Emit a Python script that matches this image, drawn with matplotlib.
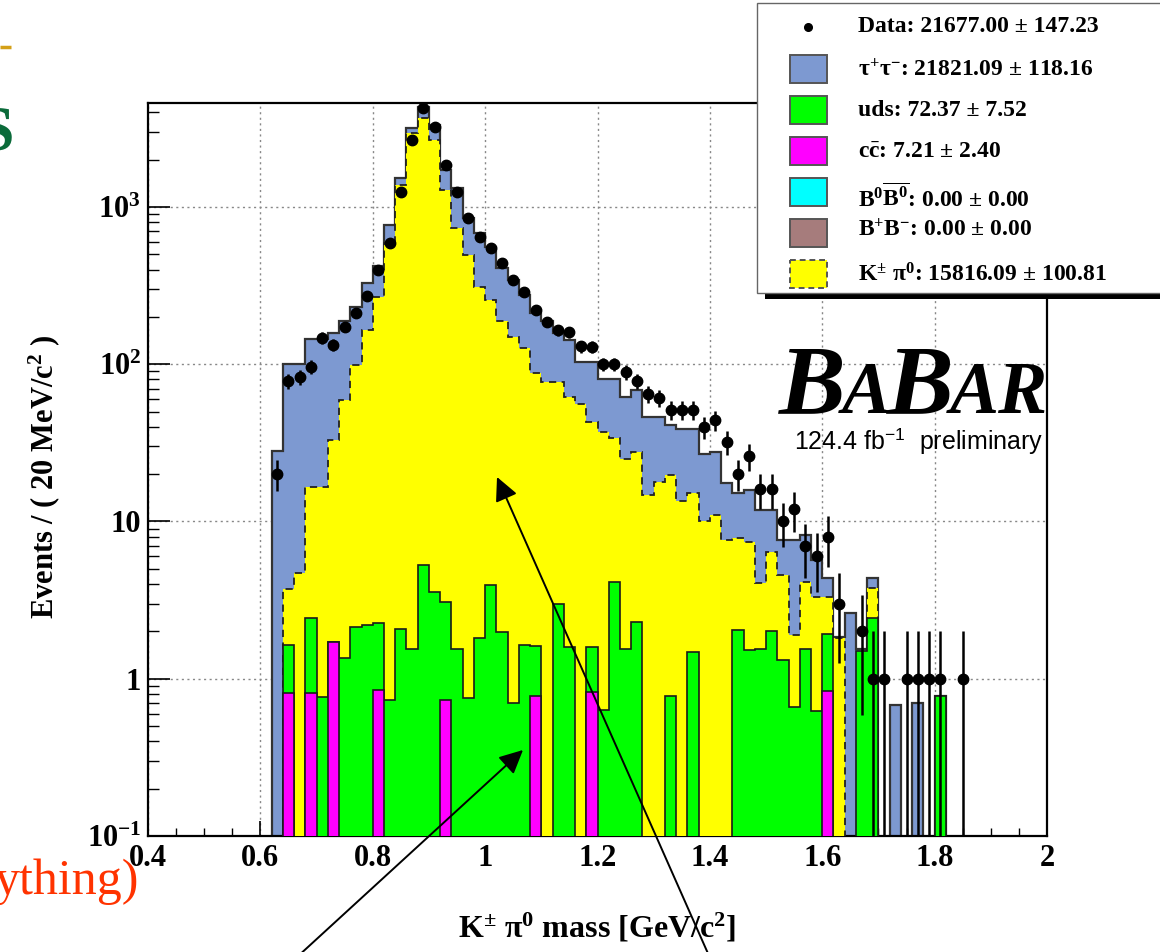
import numpy as np
import matplotlib
matplotlib.use("Agg")
import matplotlib.pyplot as plt
from matplotlib.patches import Rectangle
from matplotlib.ticker import MultipleLocator, LogLocator, NullFormatter, FixedLocator, FixedFormatter

plt.rcParams['font.family'] = ['Liberation Serif', 'DejaVu Serif']
plt.rcParams['mathtext.fontset'] = 'custom'
plt.rcParams['mathtext.rm'] = 'Liberation Serif:bold'
plt.rcParams['mathtext.bf'] = 'Liberation Serif:bold'
plt.rcParams['mathtext.it'] = 'Liberation Serif:italic:bold'
plt.rcParams['mathtext.sf'] = 'Liberation Sans'

# ---------------- data (62 bins of 20 MeV starting at 0.62 GeV) ----------------
bin_low = 0.62
bin_width = 0.02

data_counts = [20, 78, 83, 96, 147, 133, 173, 212, 272, 397,
               590, 1245, 2667, 4260, 3200, 1860, 1250, 855, 645, 545,
               439, 345, 287, 221, 186, 164, 160, 130, 129, 100,
               100, 89, 78, 65, 61, 51, 51, 51, 40, 44,
               32, 20, 26, 16, 16, 10, 12, 7, 6, 8,
               3, 0, 2, 1, 1, 0, 1, 1, 1, 1,
               0, 1]

# top of the stacked MC (tau+tau- + uds + ccbar)
total_mc = [28, 101, 101, 145, 145, 158, 187, 232, 327, 421,
            768, 1521, 3163, 4345, 3300, 1719, 1315, 847, 680, 559,
            407, 343, 276, 211, 187, 157, 143, 104, 104, 81,
            81, 62, 68.6, 46, 46, 41, 39, 39, 27, 27.8,
            17.5, 15.2, 15.8, 11.8, 11.8, 7.6, 7.6, 8.2, 5.7, 4.4,
            1.85, 2.6, 1.55, 4.35, 0, 0.68, 0, 0.70, 0, 0.78,
            0, 0]

kpi0 = [0, 3.7, 4.7, 16.6, 16.6, 33, 59, 99, 165, 269,
        588, 1380, 2942, 3664, 2667, 1283, 732, 495, 311, 256,
        187, 150, 126, 88, 77, 77, 62, 56, 43, 37,
        34, 25, 27.8, 14.7, 17.7, 19.8, 13.4, 15.2, 10, 11,
        7.6, 7.8, 7.4, 4.05, 6.4, 4.57, 1.9, 4.15, 3.33, 3.33,
        1.81, 0, 0, 3.76, 0, 0, 0, 0, 0, 0,
        0, 0]

uds = [0, 0.83, 0, 1.63, 0.77, 0, 1.35, 2.14, 2.2, 1.40,
       0.73, 2.08, 1.54, 5.3, 3.58, 2.36, 1.54, 0.75, 1.81, 3.95,
       1.99, 0.70, 1.64, 0.84, 0, 2.99, 1.6, 0, 0.78, 0.63,
       4.15, 1.55, 2.3, 0, 0, 0.78, 0, 1.48, 0, 0,
       0, 2.05, 1.52, 1.55, 2.0, 1.32, 0.66, 1.55, 0.62, 1.10,
       0, 0, 1.5, 2.42, 0, 0, 0, 0, 0, 0.78,
       0, 0]

ccbar = [0, 0.81, 0, 0.81, 0, 1.70, 0, 0, 0, 0.85,
         0, 0, 0, 0, 0, 0.73, 0, 0, 0, 0,
         0, 0, 0, 0.78, 0, 0, 0, 0, 0.82, 0,
         0, 0, 0, 0, 0, 0, 0, 0, 0, 0,
         0, 0, 0, 0, 0, 0, 0, 0, 0, 0.83,
         0, 0, 0, 0, 0, 0, 0, 0, 0, 0,
         0, 0]

legend_labels = ['Data: 21677.00 \u00b1 147.23',
                 '\u03c4$^{+}$\u03c4$^{-}$: 21821.09 \u00b1 118.16',
                 'uds: 72.37 \u00b1 7.52',
                 'c$\\bar{\\mathrm{c}}$: 7.21 \u00b1 2.40',
                 'B$^{0}\\overline{\\mathrm{B}^{0}}$: 0.00 \u00b1 0.00',
                 'B$^{+}$B$^{-}$: 0.00 \u00b1 0.00',
                 'K$^{\\pm}$ \u03c0$^{0}$: 15816.09 \u00b1 100.81']

x_ticks = [0.4, 0.6, 0.8, 1.0, 1.2, 1.4, 1.6, 1.8, 2.0]
x_tick_labels = ['0.4', '0.6', '0.8', '1', '1.2', '1.4', '1.6', '1.8', '2']
y_ticks = [0.1, 1, 10, 100, 1000]
y_tick_labels = [r'$10^{-1}$', '1', '10', r'$10^{2}$', r'$10^{3}$']

# ---------------- colours ----------------
c_tau = '#7D99D1'
c_uds = '#00FF00'
c_cc = '#FF00FF'
c_kpi = '#FFFF00'
c_b0 = '#00FFFF'
c_bp = '#A67C7C'

# ---------------- figure ----------------
fig = plt.figure(figsize=(11.6, 9.52), dpi=100)
ax = fig.add_axes([148 / 1160, 116 / 952, 899 / 1160, 733 / 952])

data_counts = np.array(data_counts, float)
total_mc = np.array(total_mc, float)
kpi0 = np.array(kpi0, float)
uds = np.array(uds, float)
ccbar = np.array(ccbar, float)
nb = len(data_counts)
edges = bin_low + bin_width * np.arange(nb + 1)
centers = edges[:-1] + bin_width / 2

floor = 1e-3
def fl(v):
    return np.where(v > 0, v, floor)

green_top = uds + ccbar

# tau+tau- stack (blue)
ax.stairs(fl(total_mc), edges, baseline=floor, fill=True, facecolor=c_tau, edgecolor='none', zorder=2)
ax.stairs(fl(total_mc), edges, baseline=floor, fill=False, color='#333333', lw=1.6, zorder=2.1)
# K pi0 (yellow, dashed)
ax.stairs(fl(kpi0), edges, baseline=floor, fill=True, facecolor=c_kpi, edgecolor='none', zorder=3)
ax.stairs(fl(kpi0), edges, baseline=floor, fill=False, color='#222222', lw=1.3,
          linestyle=(0, (4, 3)), zorder=3.1)
# uds (green) stacked on ccbar
ax.stairs(fl(green_top), edges, baseline=floor, fill=True, facecolor=c_uds, edgecolor='#1a1a1a', lw=1.2, zorder=4)
# ccbar (magenta)
ax.stairs(fl(ccbar), edges, baseline=floor, fill=True, facecolor=c_cc, edgecolor='#1a1a1a', lw=1.2, zorder=5)

# data points
m = data_counts > 0
err = np.sqrt(data_counts[m])
lo = np.minimum(err, data_counts[m] * 0.9999)
ax.errorbar(centers[m], data_counts[m], yerr=[lo, err], fmt='o', color='black', ms=7.5,
            elinewidth=1.8, capsize=0, zorder=6)

# axes
ax.set_yscale('log')
ax.set_xlim(0.4, 2.0)
ax.set_ylim(0.1, 4580)
ax.set_axisbelow(True)
ax.xaxis.set_major_locator(FixedLocator(x_ticks))
ax.xaxis.set_major_formatter(FixedFormatter(x_tick_labels))
ax.xaxis.set_minor_locator(MultipleLocator(0.05))
ax.yaxis.set_major_locator(FixedLocator(y_ticks))
ax.yaxis.set_major_formatter(FixedFormatter(y_tick_labels))
ax.yaxis.set_minor_locator(LogLocator(base=10, subs=np.arange(2, 10), numticks=20))
ax.yaxis.set_minor_formatter(NullFormatter())
ax.tick_params(axis='both', which='both', direction='in', colors='black')
ax.tick_params(axis='x', which='major', length=11, width=1.2, labelsize=22, pad=6)
ax.tick_params(axis='x', which='minor', length=6, width=1.0)
ax.tick_params(axis='y', which='major', length=16, width=1.2, labelsize=22, pad=5)
ax.tick_params(axis='y', which='minor', length=8, width=1.0)
for lab in ax.get_xticklabels() + ax.get_yticklabels():
    lab.set_fontweight('bold')
ax.grid(True, which='major', linestyle=(0, (1.5, 2.5)), color='#888888', lw=1.0)
for sp in ax.spines.values():
    sp.set_linewidth(1.6)
    sp.set_color('black')

ax.set_xlabel('K$^{\\pm}$ \u03c0$^{0}$ mass [GeV/c$^{2}$]', fontsize=23, fontweight='bold', va='center')
ax.xaxis.set_label_coords(0.499, -0.125)
ax.set_ylabel('Events / ( 20 MeV/c$^{2}$ )', fontsize=22, fontweight='bold', va='center')
ax.yaxis.set_label_coords(-0.115, 0.49)

# ---------------- overlay (legend, logo, annotations) ----------------
ov = fig.add_axes([0, 0, 1, 1], zorder=10)
ov.set_xlim(0, 1160)
ov.set_ylim(952, 0)
ov.axis('off')

# legend box with shadow
ov.add_patch(Rectangle((765, 10), 420, 289, facecolor='black', edgecolor='none', zorder=1))
ov.add_patch(Rectangle((757, 3), 420, 290, facecolor='white', edgecolor='#666666', lw=1.0, zorder=2))
entry_y = [27, 69, 110, 151, 192, 233, 274]
text_dy = [0, 1, 0, 2, 6, -3, 1]
box_colors = [None, c_tau, c_uds, c_cc, c_b0, c_bp, c_kpi]
for i, (lab, yy) in enumerate(zip(legend_labels, entry_y)):
    if box_colors[i] is None:
        ov.plot([808], [yy], 'o', color='black', ms=5.5, zorder=3)
    else:
        ls = (0, (3, 2)) if i == 6 else '-'
        ov.add_patch(Rectangle((790, yy - 14), 37, 28, facecolor=box_colors[i], edgecolor='#555555',
                               lw=1.4, linestyle=ls, zorder=3))
    ov.text(858, yy + text_dy[i], lab, fontsize=17, fontweight='bold', ha='left', va='center', zorder=3)

# BaBar logo
fig.canvas.draw()
renderer = fig.canvas.get_renderer()
pieces = [('B', 72), ('A', 53), ('B', 72), ('AR', 53)]
xcur = 0.0
objs = []
for s, fs in pieces:
    t = ov.text(xcur, 413, s, fontsize=fs, fontweight='bold', fontstyle='italic',
                ha='left', va='baseline', zorder=3)
    bb = t.get_window_extent(renderer)
    xcur = bb.x1 - 4
    objs.append(t)
shift = 1048 - (xcur + 4)
for t in objs:
    t.set_x(t.get_position()[0] + shift)

ov.text(1043, 441, r'124.4 fb$^{\mathsf{-1}}$  preliminary', fontsize=18, fontfamily='Liberation Sans',
        ha='right', va='center', zorder=3)

# arrows
ov.annotate('', xy=(523, 750), xycoords='data', xytext=(296, 958), textcoords='data',
            arrowprops=dict(arrowstyle='-|>,head_length=0.45,head_width=0.22', color='black', lw=1.4,
                            mutation_scale=32, shrinkA=0, shrinkB=0), annotation_clip=False)
ov.annotate('', xy=(497, 477), xycoords='data', xytext=(710, 958), textcoords='data',
            arrowprops=dict(arrowstyle='-|>,head_length=0.45,head_width=0.22', color='black', lw=1.4,
                            mutation_scale=32, shrinkA=0, shrinkB=0), annotation_clip=False)

# slide fragments on the left edge
ov.plot([0, 11], [47, 47], color='#D4A017', lw=2.5, solid_capstyle='butt')
ov.text(14, 150, 'S', fontsize=46, fontweight='bold', color='#0B6B3A', ha='right', va='baseline')
ov.text(-6, 894, 'ything)', fontsize=36, fontweight='normal', color='#FF3300', ha='left', va='baseline')

fig.savefig('out.png', dpi=100)
